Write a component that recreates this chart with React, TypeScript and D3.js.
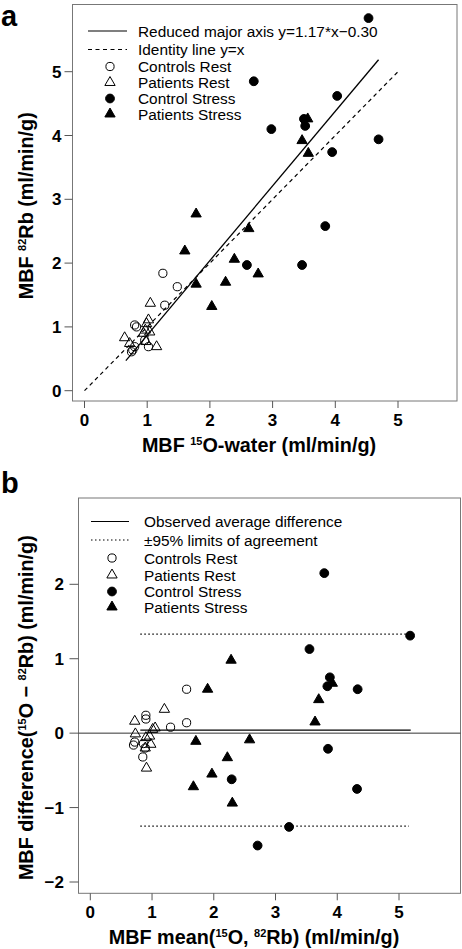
import React from "react";
import * as d3 from "d3";

// ---------- Data ----------
// Panel a: [MBF 15O-water, MBF 82Rb]
const controlsRestA: [number, number][] = [[1.25,1.84],[1.48,1.63],[1.28,1.34],[0.80,1.03],[0.83,1.00],[0.96,0.79],[1.02,0.69],[0.80,0.69],[0.75,0.61],[0.77,0.64]];
const patientsRestA: [number, number][] = [[1.05,1.37],[1.02,1.11],[0.99,1.05],[0.97,0.95],[1.04,0.92],[0.94,0.90],[0.64,0.83],[0.98,0.77],[1.15,0.69],[0.72,0.74]];
const controlStressA: [number, number][] = [[4.53,5.84],[2.70,4.85],[4.03,4.62],[2.98,4.10],[3.50,4.26],[3.52,4.15],[4.69,3.94],[3.95,3.74],[3.84,2.58],[2.59,1.97],[3.47,1.97]];
const patientsStressA: [number, number][] = [[3.56,4.26],[3.47,3.92],[3.57,3.72],[1.78,2.77],[2.62,2.54],[1.60,2.19],[2.39,2.06],[2.77,1.83],[2.25,1.70],[1.78,1.67],[2.03,1.32]];
const rmaSlope = 1.17;
const rmaIntercept = -0.30;
const rmaRange = [0.66, 4.69];
const identityRange = [0, 5];

// Panel b: [mean, difference]
const controlsRestB: [number, number][] = [[1.56,0.59],[1.56,0.14],[1.30,0.08],[0.90,0.24],[0.90,0.19],[0.72,-0.12],[0.70,-0.16],[0.86,-0.14],[0.89,-0.20],[0.85,-0.32]];
const patientsRestB: [number, number][] = [[1.20,0.32],[1.05,0.07],[1.01,0.05],[0.96,-0.04],[0.98,-0.15],[0.90,-0.06],[0.72,0.16],[0.89,-0.20],[0.91,-0.47],[0.73,-0.01]];
const controlStressB: [number, number][] = [[5.18,1.31],[3.55,1.13],[3.88,0.75],[3.84,0.63],[4.33,0.59],[3.85,-0.21],[2.29,-0.62],[4.32,-0.75],[3.22,-1.26],[2.71,-1.51],[3.79,2.15]];
const patientsStressB: [number, number][] = [[2.28,0.98],[1.90,0.59],[3.92,0.67],[3.70,0.45],[3.64,0.15],[1.71,-0.11],[2.58,-0.09],[2.22,-0.33],[1.97,-0.55],[1.67,-0.72],[2.30,-0.94]];
const meanDiff = 0.04;
const upperLimit = 1.33;
const lowerLimit = -1.25;
const blandRange = [0.81, 5.19];

const xTicksA = [0, 1, 2, 3, 4, 5];
const yTicksA = [0, 1, 2, 3, 4, 5];
const xTicksB = [0, 1, 2, 3, 4, 5];
const yTicksB = [-2, -1, 0, 1, 2];

const groupLabels = ["Controls Rest", "Patients Rest", "Control Stress", "Patients Stress"];

const FONT = "'Liberation Sans', Arial, Helvetica, sans-serif";
const LEG_FS = 15.4;
const TITLE_FS = 19.8;
const SUP_FS = 11;

const triPath = d3.symbol(d3.symbolTriangle, 46)()!;

function Marker({ x, y, kind }: { x: number; y: number; kind: number }) {
  // 0 open circle, 1 open triangle, 2 filled circle, 3 filled triangle
  if (kind === 0) return <circle cx={x} cy={y} r={4.1} fill="none" stroke="#000" strokeWidth={1} />;
  if (kind === 2) return <circle cx={x} cy={y} r={4.4} fill="#000" stroke="#000" strokeWidth={1} />;
  return (
    <path
      d={triPath}
      transform={`translate(${x},${y})`}
      fill={kind === 3 ? "#000" : "none"}
      stroke="#000"
      strokeWidth={1}
    />
  );
}

const fmt = (v: number) => (v < 0 ? "\u2212" + Math.abs(v) : String(v));

export default function App() {
  // Panel a scales
  const xA = d3.scaleLinear().domain([0, 5]).range([84.5, 398]);
  const yA = d3.scaleLinear().domain([0, 5]).range([390.7, 71.7]);
  const boxA = { l: 72.5, r: 457, t: 4.5, b: 401 };
  // Panel b scales
  const xB = d3.scaleLinear().domain([0, 5]).range([90.3, 399]);
  const yB = d3.scaleLinear().domain([-2, 2]).range([882, 584.3]);
  const boxB = { l: 78.5, r: 460.5, t: 498, b: 893.3 };

  const lineGen = d3.line<[number, number]>();

  const groupsA = [controlsRestA, patientsRestA, controlStressA, patientsStressA];
  const groupsB = [controlsRestB, patientsRestB, controlStressB, patientsStressB];

  const rmaPts: [number, number][] = rmaRange.map((x) => [xA(x), yA(rmaSlope * x + rmaIntercept)]);
  const idPts: [number, number][] = identityRange.map((x) => [xA(x), yA(x)]);

  const legA = { lineX0: 88, lineX1: 127, sym: 110, text: 138, rows: [31, 49.5, 66.5, 82.5, 98.5, 114] };
  const legB = { lineX0: 91, lineX1: 129, sym: 112, text: 144, rows: [521.5, 540, 558, 575, 591.5, 607] };

  return (
    <svg width={462} height={949} style={{ position: "absolute", left: 0, top: 0, background: "#fff" }} fontFamily={FONT}>
      <rect width={462} height={949} fill="#fff" />
      {/* ---------------- Panel a ---------------- */}
      <text x={1} y={26} fontSize={29} fontWeight="bold">a</text>
      <rect x={boxA.l} y={boxA.t} width={boxA.r - boxA.l} height={boxA.b - boxA.t} fill="none" stroke="#777" strokeWidth={1} />
      {xTicksA.map((t) => (
        <g key={"xa" + t}>
          <line x1={xA(t)} x2={xA(t)} y1={boxA.b} y2={boxA.b + 7} stroke="#555" />
          <text x={xA(t)} y={426} textAnchor="middle" fontSize={17} fontWeight="bold">{fmt(t)}</text>
        </g>
      ))}
      {yTicksA.map((t) => (
        <g key={"ya" + t}>
          <line x1={boxA.l - 8} x2={boxA.l} y1={yA(t)} y2={yA(t)} stroke="#555" />
          <text x={61.5} y={yA(t) + 6} textAnchor="end" fontSize={17} fontWeight="bold">{fmt(t)}</text>
        </g>
      ))}
      <text x={259} y={452} textAnchor="middle" fontSize={TITLE_FS} fontWeight="bold">
        MBF <tspan fontSize={SUP_FS} dy={-7.5}>15</tspan><tspan dy={7.5}>O-water (ml/min/g)</tspan>
      </text>
      <text transform={`translate(33,${(boxA.t + boxA.b) / 2 + 3}) rotate(-90)`} textAnchor="middle" fontSize={TITLE_FS} fontWeight="bold">
        MBF <tspan fontSize={SUP_FS} dy={-7.5}>82</tspan><tspan dy={7.5}>Rb (ml/min/g)</tspan>
      </text>
      <path d={lineGen(idPts)!} stroke="#000" strokeWidth={1.2} strokeDasharray="4,3.5" fill="none" />
      <path d={lineGen(rmaPts)!} stroke="#000" strokeWidth={1.3} fill="none" />
      {groupsA.map((g, gi) =>
        g.map((p, i) => <Marker key={`a${gi}-${i}`} x={xA(p[0])} y={yA(p[1])} kind={gi} />)
      )}
      {/* legend a */}
      <line x1={legA.lineX0} x2={legA.lineX1} y1={legA.rows[0]} y2={legA.rows[0]} stroke="#000" strokeWidth={1.2} />
      <line x1={legA.lineX0} x2={legA.lineX1} y1={legA.rows[1]} y2={legA.rows[1]} stroke="#000" strokeWidth={1.2} strokeDasharray="4,3.5" />
      <text x={legA.text} y={legA.rows[0] + 5.5} fontSize={LEG_FS}>Reduced major axis y=1.17*x{"\u2212"}0.30</text>
      <text x={legA.text} y={legA.rows[1] + 5.5} fontSize={LEG_FS}>Identity line y=x</text>
      {groupLabels.map((lab, i) => (
        <g key={"la" + i}>
          <Marker x={legA.sym} y={legA.rows[i + 2]} kind={i} />
          <text x={legA.text} y={legA.rows[i + 2] + 5.5} fontSize={LEG_FS}>{lab}</text>
        </g>
      ))}

      {/* ---------------- Panel b ---------------- */}
      <text x={1} y={493} fontSize={29} fontWeight="bold">b</text>
      <rect x={boxB.l} y={boxB.t} width={boxB.r - boxB.l} height={boxB.b - boxB.t} fill="none" stroke="#777" strokeWidth={1} />
      {xTicksB.map((t) => (
        <g key={"xb" + t}>
          <line x1={xB(t)} x2={xB(t)} y1={boxB.b} y2={boxB.b + 7} stroke="#555" />
          <text x={xB(t)} y={918} textAnchor="middle" fontSize={17} fontWeight="bold">{fmt(t)}</text>
        </g>
      ))}
      {yTicksB.map((t) => (
        <g key={"yb" + t}>
          <line x1={boxB.l - 9} x2={boxB.l} y1={yB(t)} y2={yB(t)} stroke="#555" />
          <text x={64} y={yB(t) + 6} textAnchor="end" fontSize={17} fontWeight="bold">{fmt(t)}</text>
        </g>
      ))}
      <text x={254} y={944} textAnchor="middle" fontSize={TITLE_FS} fontWeight="bold">
        MBF mean(<tspan fontSize={SUP_FS} dy={-7.5}>15</tspan><tspan dy={7.5}>O, </tspan><tspan fontSize={SUP_FS} dy={-7.5}>82</tspan><tspan dy={7.5}>Rb) (ml/min/g)</tspan>
      </text>
      <text transform={`translate(33,${(boxB.t + boxB.b) / 2 + 12}) rotate(-90)`} textAnchor="middle" fontSize={TITLE_FS} fontWeight="bold">
        MBF difference(<tspan fontSize={SUP_FS} dy={-7.5}>15</tspan><tspan dy={7.5}>O {"\u2212"} </tspan><tspan fontSize={SUP_FS} dy={-7.5}>82</tspan><tspan dy={7.5}>Rb) (ml/min/g)</tspan>
      </text>
      <line x1={boxB.l} x2={boxB.r} y1={yB(0)} y2={yB(0)} stroke="#333" strokeWidth={1} />
      <line x1={xB(blandRange[0])} x2={xB(blandRange[1])} y1={yB(meanDiff)} y2={yB(meanDiff)} stroke="#000" strokeWidth={1.3} />
      <line x1={xB(blandRange[0])} x2={xB(blandRange[1] - 0.03)} y1={yB(upperLimit)} y2={yB(upperLimit)} stroke="#000" strokeWidth={1.2} strokeDasharray="1.5,2.5" />
      <line x1={xB(blandRange[0])} x2={xB(blandRange[1] - 0.03)} y1={yB(lowerLimit)} y2={yB(lowerLimit)} stroke="#000" strokeWidth={1.2} strokeDasharray="1.5,2.5" />
      {groupsB.map((g, gi) =>
        g.map((p, i) => <Marker key={`b${gi}-${i}`} x={xB(p[0])} y={yB(p[1])} kind={gi} />)
      )}
      {/* legend b */}
      <line x1={legB.lineX0} x2={legB.lineX1} y1={legB.rows[0]} y2={legB.rows[0]} stroke="#000" strokeWidth={1.2} />
      <line x1={legB.lineX0} x2={legB.lineX1} y1={legB.rows[1]} y2={legB.rows[1]} stroke="#000" strokeWidth={1.2} strokeDasharray="1.5,2.5" />
      <text x={legB.text} y={legB.rows[0] + 5.5} fontSize={LEG_FS}>Observed average difference</text>
      <text x={legB.text} y={legB.rows[1] + 5.5} fontSize={LEG_FS}>±95% limits of agreement</text>
      {groupLabels.map((lab, i) => (
        <g key={"lb" + i}>
          <Marker x={legB.sym} y={legB.rows[i + 2]} kind={i} />
          <text x={legB.text} y={legB.rows[i + 2] + 5.5} fontSize={LEG_FS}>{lab}</text>
        </g>
      ))}
    </svg>
  );
}
